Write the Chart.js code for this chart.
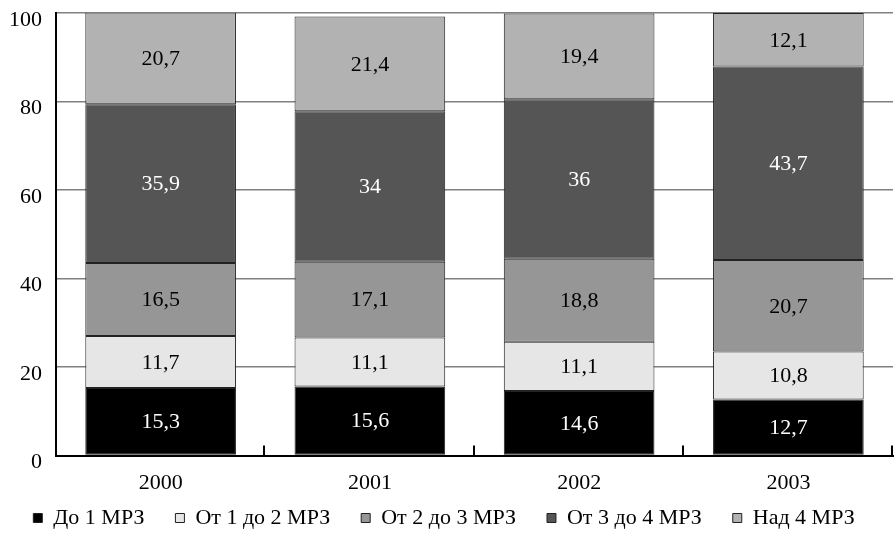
<!DOCTYPE html>
<html>
<head>
<meta charset="utf-8">
<script src="https://cdn.jsdelivr.net/npm/chart.js@4.4.1/dist/chart.umd.min.js"></script>
<style>
  body { margin: 0; background: #fff; }
  #wrap { width: 895px; height: 533px; }
</style>
</head>
<body>
<div id="wrap"><canvas id="chart" width="895" height="533"></canvas></div>
<script>
const years = ["2000", "2001", "2002", "2003"];
const seriesNames = ["До 1 МРЗ", "От 1 до 2 МРЗ", "От 2 до 3 МРЗ", "От 3 до 4 МРЗ", "Над 4 МРЗ"];
const upTo1 = [15.3, 15.6, 14.6, 12.7];
const from1to2 = [11.7, 11.1, 11.1, 10.8];
const from2to3 = [16.5, 17.1, 18.8, 20.7];
const from3to4 = [35.9, 34, 36, 43.7];
const over4 = [20.7, 21.4, 19.4, 12.1];
const yTicks = [0, 20, 40, 60, 80, 100];

const fills = ["#000000", "#e6e6e6", "#969696", "#555555", "#b2b2b2"];
const labelColors = ["#ffffff", "#000000", "#000000", "#ffffff", "#000000"];
const font = "'Liberation Serif', 'Times New Roman', serif";

// value labels in the middle of each segment
const segmentLabels = {
  id: "segmentLabels",
  afterDatasetsDraw(chart) {
    const ctx = chart.ctx;
    ctx.save();
    ctx.font = "22px " + font;
    ctx.textAlign = "center";
    ctx.textBaseline = "middle";
    chart.data.datasets.forEach((ds, i) => {
      chart.getDatasetMeta(i).data.forEach((bar, j) => {
        const p = bar.getProps(["x", "y", "base"], true);
        ctx.fillStyle = labelColors[i];
        ctx.fillText(String(ds.data[j]).replace(".", ","), p.x, (p.y + p.base) / 2 + 1);
      });
    });
    ctx.restore();
  }
};

// short ticks pointing up from the baseline between categories
const innerTicks = {
  id: "innerTicks",
  afterDatasetsDraw(chart) {
    const x = chart.scales.x, y = chart.scales.y;
    const ctx = chart.ctx;
    const step = (x.right - x.left) / years.length;
    ctx.save();
    ctx.strokeStyle = "#000";
    ctx.lineWidth = 2;
    for (let i = 1; i <= years.length; i++) {
      const px = Math.round(x.left + step * i) - 1;
      ctx.beginPath();
      ctx.moveTo(px, y.bottom);
      ctx.lineTo(px, y.bottom - 10);
      ctx.stroke();
    }
    ctx.restore();
  }
};

// legend keeps wide gaps between items but sits close under the axis
const legendSpot = {
  id: "legendSpot",
  afterLayout(chart) {
    const lg = chart.legend;
    lg.top = 476;
    lg.bottom = 533;
    lg.height = lg.bottom - lg.top;
  }
};

const series = [upTo1, from1to2, from2to3, from3to4, over4];

new Chart(document.getElementById("chart").getContext("2d"), {
  type: "bar",
  data: {
    labels: years,
    datasets: series.map((arr, i) => ({
      label: seriesNames[i],
      data: arr,
      backgroundColor: fills[i],
      borderColor: "#222222",
      borderWidth: 1,
      borderSkipped: false,
      categoryPercentage: 0.72,
      barPercentage: 1
    }))
  },
  options: {
    responsive: false,
    animation: false,
    layout: { padding: { top: 13, right: 2, left: -5, bottom: 0 } },
    scales: {
      x: {
        stacked: true,
        grid: { display: false, drawTicks: false },
        border: { display: true, color: "#000", width: 2 },
        ticks: { color: "#000", font: { family: font, size: 22 }, padding: 14 }
      },
      y: {
        stacked: true,
        min: 0,
        max: 100,
        afterBuildTicks(scale) {
          scale.ticks = yTicks.map(v => ({ value: v }));
        },
        afterFit(scale) {
          scale.paddingTop = 0;
        },
        grid: { color: "#808080", lineWidth: 1.5, drawTicks: false },
        border: { display: true, color: "#000", width: 2 },
        ticks: { color: "#000", font: { family: font, size: 22 }, padding: 14, labelOffset: 7 }
      }
    },
    plugins: {
      legend: {
        position: "bottom",
        maxHeight: 23,
        labels: {
          color: "#000",
          font: { family: font, size: 22 },
          boxWidth: 9,
          boxHeight: 9,
          padding: 31
        }
      },
      tooltip: { enabled: false }
    }
  },
  plugins: [segmentLabels, innerTicks, legendSpot]
});
</script>
</body>
</html>
